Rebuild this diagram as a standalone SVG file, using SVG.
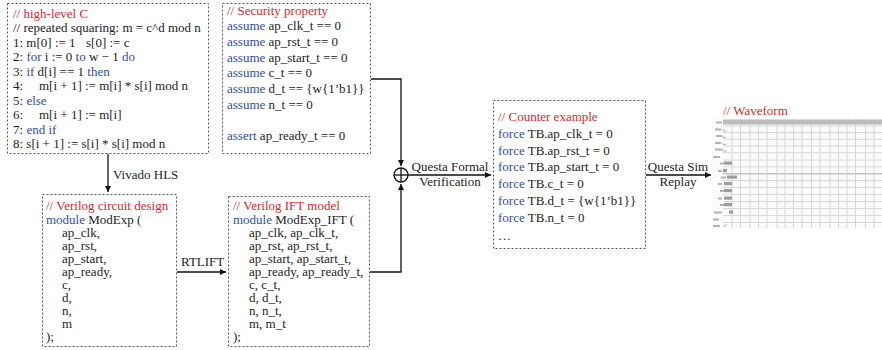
<svg xmlns="http://www.w3.org/2000/svg" width="882" height="350" viewBox="0 0 882 350">
<style>
.t{font-family:"Liberation Serif","Times New Roman",serif;font-size:13px;fill:#222}
.r{fill:#d42a2a}
.b{fill:#2f4fa6}
.box{fill:#fff;stroke:#555;stroke-width:1;stroke-dasharray:2 2}
.ln{fill:none;stroke:#111;stroke-width:1.3}
.lbl{font-family:"Liberation Serif","Times New Roman",serif;font-size:13px;fill:#222}
.g{stroke:#d6d6d6;stroke-width:1}
</style>
<defs>
<marker id="ah" markerWidth="8" markerHeight="8" refX="6" refY="3" orient="auto" markerUnits="userSpaceOnUse">
<path d="M0,0 L6,3 L0,6 z" fill="#111"/>
</marker>
<filter id="blur" x="-5%" y="-5%" width="110%" height="110%"><feGaussianBlur stdDeviation="0.6"/></filter>
</defs>

<g id="highlevel-c">
<rect class="box" x="7.5" y="3.5" width="201" height="150"/>
<text class="t" x="13" y="18"><tspan class="r">// high-level C</tspan></text>
<text class="t" x="13" y="32.4">// repeated squaring: m = c^d mod n</text>
<text class="t" x="13" y="46.9">1: m[0] := 1<tspan x="86">s[0] := c</tspan></text>
<text class="t" x="13" y="61.3">2: <tspan class="b">for</tspan> i := 0 <tspan class="b">to</tspan> w − 1 <tspan class="b">do</tspan></text>
<text class="t" x="13" y="75.8">3: <tspan class="b">if</tspan> d[i] == 1 <tspan class="b">then</tspan></text>
<text class="t" x="13" y="90.2">4:<tspan x="39">m[i + 1] := m[i] * s[i] mod n</tspan></text>
<text class="t" x="13" y="104.6">5: <tspan class="b">else</tspan></text>
<text class="t" x="13" y="119.1">6:<tspan x="39">m[i + 1] := m[i]</tspan></text>
<text class="t" x="13" y="133.5">7: <tspan class="b">end if</tspan></text>
<text class="t" x="13" y="148">8: s[i + 1] := s[i] * s[i] mod n</text>
</g>

<g id="security-property">
<rect class="box" x="222.5" y="3.5" width="148" height="150"/>
<text class="t" x="227" y="14.5"><tspan class="r">// Security property</tspan></text>
<text class="t" x="227" y="30"><tspan class="b">assume</tspan> ap_clk_t == 0</text>
<text class="t" x="227" y="46"><tspan class="b">assume</tspan> ap_rst_t == 0</text>
<text class="t" x="227" y="61.5"><tspan class="b">assume</tspan> ap_start_t == 0</text>
<text class="t" x="227" y="77"><tspan class="b">assume</tspan> c_t == 0</text>
<text class="t" x="227" y="92.5"><tspan class="b">assume</tspan> d_t == {w{1’b1}}</text>
<text class="t" x="227" y="108.5"><tspan class="b">assume</tspan> n_t == 0</text>
<text class="t" x="227" y="139.5"><tspan class="b">assert</tspan> ap_ready_t == 0</text>
</g>

<g id="verilog-design">
<rect class="box" x="42.5" y="194.5" width="134" height="152"/>
<text class="t" x="46" y="209.5"><tspan class="r">// Verilog circuit design</tspan></text>
<text class="t" x="46" y="224"><tspan class="b">module</tspan> ModExp (</text>
<text class="t" x="62" y="237">ap_clk,</text>
<text class="t" x="62" y="250">ap_rst,</text>
<text class="t" x="62" y="263">ap_start,</text>
<text class="t" x="62" y="276">ap_ready,</text>
<text class="t" x="62" y="289">c,</text>
<text class="t" x="62" y="302">d,</text>
<text class="t" x="62" y="315">n,</text>
<text class="t" x="62" y="328">m</text>
<text class="t" x="46" y="341">);</text>
</g>

<g id="verilog-ift">
<rect class="box" x="228.5" y="196.5" width="141" height="150"/>
<text class="t" x="233" y="209.5"><tspan class="r">// Verilog IFT model</tspan></text>
<text class="t" x="233" y="224"><tspan class="b">module</tspan> ModExp_IFT (</text>
<text class="t" x="249" y="237">ap_clk, ap_clk_t,</text>
<text class="t" x="249" y="250">ap_rst, ap_rst_t,</text>
<text class="t" x="249" y="263">ap_start, ap_start_t,</text>
<text class="t" x="249" y="276">ap_ready, ap_ready_t,</text>
<text class="t" x="249" y="289">c, c_t,</text>
<text class="t" x="249" y="302">d, d_t,</text>
<text class="t" x="249" y="315">n, n_t,</text>
<text class="t" x="249" y="328">m, m_t</text>
<text class="t" x="233" y="341">);</text>
</g>

<g id="counter-example">
<rect class="box" x="493.5" y="100.5" width="152" height="148"/>
<text class="t" x="498" y="120.5"><tspan class="r">// Counter example</tspan></text>
<text class="t" x="498" y="137.5"><tspan class="b">force</tspan> TB.ap_clk_t = 0</text>
<text class="t" x="498" y="154.5"><tspan class="b">force</tspan> TB.ap_rst_t = 0</text>
<text class="t" x="498" y="171"><tspan class="b">force</tspan> TB.ap_start_t = 0</text>
<text class="t" x="498" y="188"><tspan class="b">force</tspan> TB.c_t = 0</text>
<text class="t" x="498" y="205"><tspan class="b">force</tspan> TB.d_t = {w{1’b1}}</text>
<text class="t" x="498" y="221.5"><tspan class="b">force</tspan> TB.n_t = 0</text>
<text class="t" x="498" y="239.5">…</text>
</g>

<g id="xor">
<circle cx="401" cy="175" r="7" fill="#fff" stroke="#111" stroke-width="1.3"/>
<line x1="394" y1="175" x2="408" y2="175" stroke="#111" stroke-width="1.3"/>
<line x1="401" y1="168" x2="401" y2="182" stroke="#111" stroke-width="1.3"/>
</g>

<g id="waveform">
<text class="t" x="723" y="115"><tspan class="r">// Waveform</tspan></text>
<g filter="url(#blur)">
<rect x="712" y="119" width="170" height="110" fill="#fbfbfb"/>
<g class="g">
<line x1="723" y1="126" x2="882" y2="126"/>
<line x1="723" y1="132.6" x2="882" y2="132.6"/>
<line x1="723" y1="139.2" x2="882" y2="139.2"/>
<line x1="723" y1="146" x2="882" y2="146"/>
<line x1="723" y1="152.8" x2="882" y2="152.8"/>
<line x1="723" y1="160" x2="882" y2="160"/>
<line x1="723" y1="166.8" x2="882" y2="166.8"/>
<line x1="723" y1="173.8" x2="882" y2="173.8"/>
<line x1="723" y1="180.6" x2="882" y2="180.6"/>
<line x1="723" y1="187.4" x2="882" y2="187.4"/>
<line x1="723" y1="194.4" x2="882" y2="194.4"/>
<line x1="723" y1="201.6" x2="882" y2="201.6"/>
<line x1="723" y1="208.6" x2="882" y2="208.6"/>
<line x1="723" y1="215.6" x2="882" y2="215.6"/>
<line x1="723" y1="222.4" x2="882" y2="222.4"/>
<line x1="732" y1="119" x2="732" y2="228"/>
<line x1="740.5" y1="119" x2="740.5" y2="228"/>
<line x1="750" y1="119" x2="750" y2="228"/>
<line x1="758.5" y1="119" x2="758.5" y2="228"/>
<line x1="767" y1="119" x2="767" y2="228"/>
<line x1="777" y1="119" x2="777" y2="228"/>
<line x1="785" y1="119" x2="785" y2="228"/>
<line x1="793.5" y1="119" x2="793.5" y2="228"/>
<line x1="802" y1="119" x2="802" y2="228"/>
<line x1="811.5" y1="119" x2="811.5" y2="228"/>
<line x1="820" y1="119" x2="820" y2="228"/>
<line x1="830" y1="119" x2="830" y2="228"/>
<line x1="838.5" y1="119" x2="838.5" y2="228"/>
<line x1="847" y1="119" x2="847" y2="228"/>
<line x1="855.5" y1="119" x2="855.5" y2="228"/>
<line x1="865.5" y1="119" x2="865.5" y2="228"/>
<line x1="874" y1="119" x2="874" y2="228"/>
</g>
<rect x="723" y="119.5" width="159" height="5" fill="#bcbcbc"/>
<rect x="723" y="173" width="159" height="1.4" fill="#c4c4c4"/>
<g fill="#b4b4b4">
<rect x="716" y="121.5" width="6" height="2"/>
<rect x="715" y="128.5" width="6" height="2"/>
<rect x="716" y="135" width="6" height="2"/>
<rect x="715" y="142" width="6" height="2"/>
<rect x="715" y="148.5" width="7" height="2"/>
<rect x="713" y="156" width="7" height="2"/>
<rect x="720" y="162.5" width="4" height="2"/>
<rect x="718" y="170" width="4" height="2"/>
<rect x="721" y="176.5" width="5" height="2"/>
<rect x="718" y="183" width="4" height="2"/>
<rect x="720" y="190" width="4" height="2"/>
<rect x="718" y="197.5" width="4" height="2"/>
<rect x="720" y="204" width="4" height="2"/>
<rect x="714" y="211.5" width="8" height="2"/>
<rect x="713" y="218.5" width="6" height="2"/>
<rect x="713" y="225" width="7" height="2"/>
</g>
<g fill="#9c9c9c">
<rect x="724" y="161.5" width="8" height="3.2"/>
<rect x="723" y="169" width="4" height="3.2"/>
<rect x="727" y="175.5" width="10" height="3.2"/>
<rect x="724" y="182" width="8" height="3.2"/>
<rect x="724" y="189" width="8" height="3.2"/>
<rect x="724" y="196.5" width="8" height="3.2"/>
<rect x="724" y="203" width="8" height="3.2"/>
<rect x="729" y="210.5" width="4" height="3.2"/>
</g>
<g stroke="#bcbcbc" stroke-width="1" fill="none">
<path d="M723,129 v2 h3"/>
<path d="M723,135.5 v2 h3"/>
<path d="M723,142.5 v2 h3"/>
<path d="M723,149 v2 h4"/>
<path d="M723,226 h3 v-2"/>
</g>
</g>
</g>

<g id="connectors">
<line class="ln" x1="108" y1="154" x2="108" y2="192" marker-end="url(#ah)"/>
<text class="lbl" x="113" y="179">Vivado HLS</text>
<line class="ln" x1="177" y1="272" x2="226" y2="272" marker-end="url(#ah)"/>
<text class="lbl" x="181" y="266">RTLIFT</text>
<polyline class="ln" points="371,79 401,79 401,166" marker-end="url(#ah)"/>
<polyline class="ln" points="370,272 401,272 401,184" marker-end="url(#ah)"/>
<line class="ln" x1="408" y1="175" x2="491" y2="175" marker-end="url(#ah)"/>
<text class="lbl" x="450" y="170.5" text-anchor="middle">Questa Formal</text>
<text class="lbl" x="450" y="185.5" text-anchor="middle">Verification</text>
<line class="ln" x1="646" y1="175" x2="711" y2="175" marker-end="url(#ah)"/>
<text class="lbl" x="678" y="170.5" text-anchor="middle">Questa Sim</text>
<text class="lbl" x="678" y="185.5" text-anchor="middle">Replay</text>
</g>
</svg>
